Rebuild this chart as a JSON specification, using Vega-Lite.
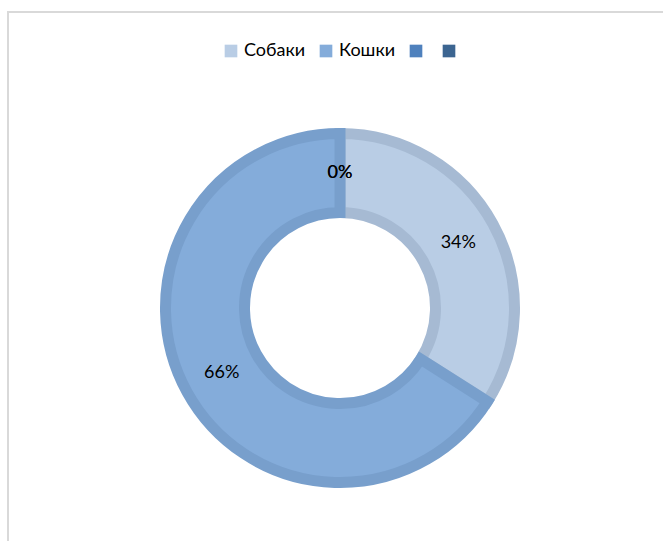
{
  "$schema": "https://vega.github.io/schema/vega-lite/v6.json",
  "autosize": {"type": "none"},
  "width": 664,
  "height": 592,
  "padding": {"left": 8, "top": 12, "right": 0, "bottom": 0},
  "config": {
    "view": {"stroke": null},
    "font": "Lato"
  },
  "data": {
    "values": [
      {"animal": "Собаки", "share": 0.34, "n": 1},
      {"animal": "Кошки", "share": 0.66, "n": 2},
      {"animal": "Ряд 3", "share": 0, "n": 3},
      {"animal": "Ряд 4", "share": 0, "n": 4}
    ]
  },
  "layer": [
    {
      "data": {"values": [{"frame": 1}]},
      "mark": {"type": "rect", "fill": null, "fillOpacity": 0, "stroke": "#D9D9D9", "strokeWidth": 2},
      "encoding": {}
    },
    {
      "transform": [{"filter": "datum.share > 0"}],
      "mark": {"type": "arc", "outerRadius": 174.5, "innerRadius": 95.5, "strokeWidth": 11},
      "encoding": {
        "theta": {"field": "share", "type": "quantitative", "stack": true, "scale": {"domain": [0, 1]}},
        "order": {"field": "n", "type": "ordinal"},
        "color": {
          "field": "animal",
          "type": "nominal",
          "scale": {
            "domain": ["Собаки", "Кошки", "Ряд 3", "Ряд 4"],
            "range": ["#B9CDE5", "#84ACDA", "#4F81BD", "#3C6591"]
          },
          "legend": {
            "title": null,
            "orient": "none",
            "legendX": 214,
            "legendY": 30,
            "padding": 0,
            "direction": "horizontal",
            "symbolType": "square",
            "symbolSize": 160,
            "symbolStrokeWidth": 0,
            "labelFontSize": 18,
            "labelColor": "#000000",
            "labelOffset": 4,
            "columnPadding": 11,
            "labelExpr": "indexof(['Собаки', 'Кошки'], datum.label) >= 0 ? datum.label : ''"
          }
        },
        "stroke": {
          "field": "animal",
          "type": "nominal",
          "scale": {
            "domain": ["Собаки", "Кошки", "Ряд 3", "Ряд 4"],
            "range": ["#A6BAD3", "#789FCC", "#4F81BD", "#3C6591"]
          },
          "legend": null
        }
      }
    },
    {
      "mark": {"type": "text", "radius": 135, "fontSize": 18, "color": "#000000"},
      "encoding": {
        "theta": {"field": "share", "type": "quantitative", "stack": true, "scale": {"domain": [0, 1]}},
        "order": {"field": "n", "type": "ordinal"},
        "text": {"field": "share", "type": "quantitative", "format": ".0%"}
      }
    }
  ]
}
